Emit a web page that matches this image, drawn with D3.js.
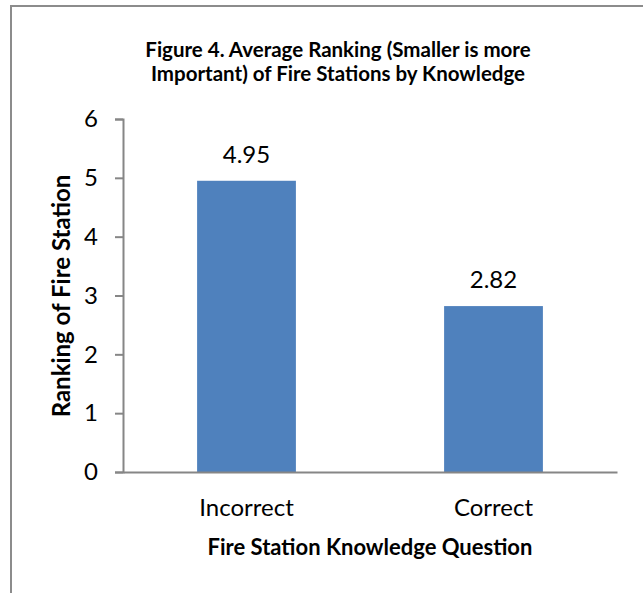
<!DOCTYPE html>
<html>
<head>
<meta charset="utf-8">
<script src="https://cdn.jsdelivr.net/npm/d3@7"></script>
<style>
    body { margin: 0; background: #fff; }
    text { font-family: Lato, "Open Sans", sans-serif; fill: #000; }
</style>
</head>
<body>
<div id="chart"></div>
<script>
var categories = ["Incorrect", "Correct"];
var values = [4.95, 2.82];
var yTicks = [0, 1, 2, 3, 4, 5, 6];
var titleLines = ["Figure 4. Average Ranking (Smaller is more", "Important) of Fire Stations by Knowledge"];
var xTitle = "Fire Station Knowledge Question";
var yTitle = "Ranking of Fire Station";

var svg = d3.select("#chart")
        .append("svg")
        .attr("width", 643)
        .attr("height", 593),
    margin = {top: 119, right: 26, bottom: 121, left: 123},
    width = +svg.attr("width") - margin.left - margin.right,
    height = +svg.attr("height") - margin.top - margin.bottom,
    g = svg.append("g").attr("transform", "translate(" + margin.left + "," + margin.top + ")");

// chart frame, only left and top edges are inside the picture
svg.append("rect")
    .attr("x", 11)
    .attr("y", 6)
    .attr("width", 700)
    .attr("height", 700)
    .attr("fill", "none")
    .attr("stroke", "#8c8c8c")
    .attr("stroke-width", 2);

var x = d3.scaleBand()
    .domain(categories)
    .range([0, width])
    .paddingInner(0.6)
    .paddingOuter(0.3);

var y = d3.scaleLinear()
    .domain([0, 6])
    .range([height, 0]);

// title
svg.append("g")
    .selectAll("text")
    .data(titleLines)
    .enter()
    .append("text")
    .attr("x", 338)
    .attr("y", function(d, i) { return 57 + i * 24; })
    .attr("text-anchor", "middle")
    .style("font-size", "20.5px")
    .style("font-weight", "bold")
    .text(function(d) { return d; });

// bars
g.selectAll(".bar")
    .data(values)
    .enter()
    .append("rect")
    .attr("class", "bar")
    .attr("x", function(d, i) { return x(categories[i]); })
    .attr("y", function(d) { return y(d); })
    .attr("width", x.bandwidth())
    .attr("height", function(d) { return height - y(d); })
    .attr("fill", "#4f81bd");

// value labels
g.selectAll(".label")
    .data(values)
    .enter()
    .append("text")
    .attr("class", "label")
    .attr("x", function(d, i) { return x(categories[i]) + x.bandwidth() / 2; })
    .attr("y", function(d) { return y(d) - 18; })
    .attr("text-anchor", "middle")
    .style("font-size", "24px")
    .text(function(d) { return d.toFixed(2); });

// y axis
var yAxis = g.append("g")
    .attr("class", "y-axis")
    .call(d3.axisLeft(y).tickValues(yTicks).tickSize(8).tickPadding(17).tickFormat(d3.format("d")));

yAxis.select(".domain").attr("stroke", "#868686").attr("stroke-width", 2);
yAxis.selectAll(".tick line").attr("stroke", "#868686").attr("stroke-width", 2);
yAxis.selectAll(".tick text").style("font-size", "24px").style("font-family", "Lato, sans-serif").attr("fill", "#000");

// x axis
var xAxis = g.append("g")
    .attr("class", "x-axis")
    .attr("transform", "translate(0," + height + ")")
    .call(d3.axisBottom(x).tickSize(0).tickPadding(27));

xAxis.select(".domain").attr("stroke", "#868686").attr("stroke-width", 2);
xAxis.selectAll(".tick text").style("font-size", "24px").style("font-family", "Lato, sans-serif").attr("fill", "#000");

// axis titles
g.append("text")
    .attr("x", width / 2)
    .attr("y", height + 83)
    .attr("text-anchor", "middle")
    .style("font-size", "22px")
    .style("font-weight", "bold")
    .text(xTitle);

g.append("text")
    .attr("transform", "translate(" + (-61) + "," + (296 - margin.top) + ") rotate(-90)")
    .attr("text-anchor", "middle")
    .attr("dy", "0.35em")
    .style("font-size", "24px")
    .style("font-weight", "bold")
    .text(yTitle);
</script>
</body>
</html>
